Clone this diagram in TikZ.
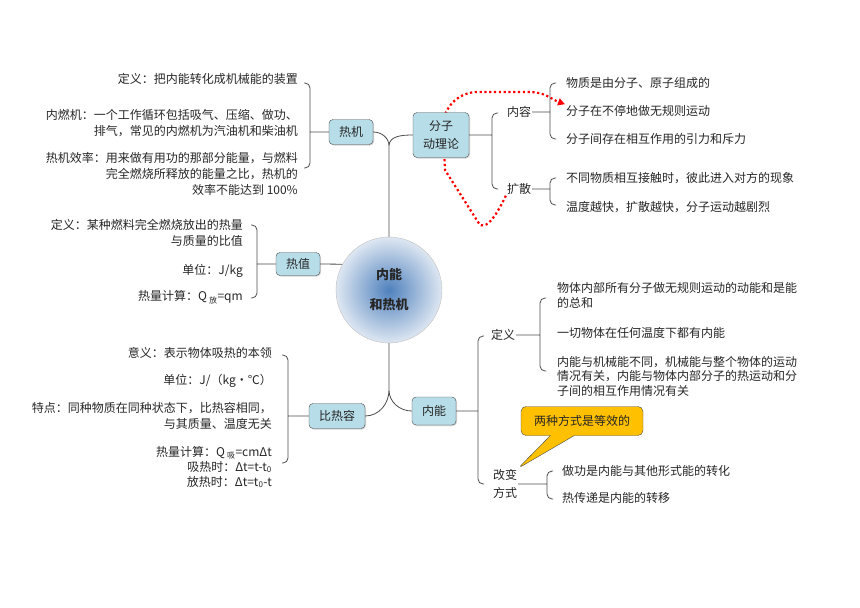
\documentclass[tikz,border=0pt]{standalone}
\usepackage{fontspec}
\setmainfont{Noto Sans CJK SC}
\usetikzlibrary{arrows.meta,shapes.callouts,shadows,backgrounds}
\definecolor{boxblue}{RGB}{183,221,232}
\definecolor{hubblue}{RGB}{79,129,189}
\definecolor{hublight}{RGB}{222,231,242}
\definecolor{noteorange}{RGB}{255,192,0}
\tikzset{
  box/.style={draw=black!70, fill=boxblue, rounded corners=4pt,
    inner xsep=10pt, minimum height=25pt,
    drop shadow={shadow xshift=1pt, shadow yshift=-1pt, fill=black!35}},
  hub/.style={circle, draw=black!25, shading=radial, inner color=hubblue,
    outer color=hublight, minimum size=106pt, align=center,
    font=\bfseries\fontsize{13}{30}\selectfont},
  note/.style={rectangle callout, draw=black!70, fill=noteorange,
    rounded corners=5pt, inner xsep=13pt, minimum height=29pt,
    callout pointer width=24pt},
  rtext/.style={anchor=east, align=right},
  ltext/.style={anchor=west, align=left},
  conn/.style={draw=black!70, line width=0.8pt, rounded corners=5pt},
  lbrace/.style={to path={([xshift=-6pt]\tikztostart) -- (\tikztostart)
    -- (\tikztotarget) -- ([xshift=-6pt]\tikztotarget)}},
  rbrace/.style={to path={([xshift=6pt]\tikztostart) -- (\tikztostart)
    -- (\tikztotarget) -- ([xshift=6pt]\tikztotarget)}},
  reddots/.style={draw=red, line width=2.2pt, dash pattern=on 2.2pt off 2.6pt,
    -{Triangle[length=7pt,width=7pt]}}
}

\begin{document}
\begin{tikzpicture}[
    x=1pt, y=-1pt,
    every node/.style={
        font=\fontsize{12}{16}\selectfont,
        text=black!85,
        inner sep=1pt
      }
    ]
    \useasboundingbox (0,0) rectangle (860,608);

    % ============= CENTRE ==================

    % -------------------------------
    \node[hub] (C) at (389,290) {内能\\和热机};
    \coordinate (JT) at (389,146);
    \coordinate (JB) at (389,390);
    % -------------------------------


    % ============= HEAT ENGINE (TOP LEFT) ==================

    % -------------------------------
    \node[box] (RJ) at (351,132) {热机};

    \node[rtext] (RJ1) at (299,79) {定义：把内能转化成机械能的装置};
    \node[rtext] (RJ2) at (299,123) {内燃机：一个工作循环包括吸气、压缩、做功、\\排气，常见的内燃机为汽油机和柴油机};
    \node[rtext] (RJ3) at (299,174) {热机效率：用来做有用功的那部分能量，与燃料\\完全燃烧所释放的能量之比，热机的\\效率不能达到 100\%};
    \coordinate (RJa) at (310,83);
    \coordinate (RJb) at (310,168);
    % -------------------------------

    % ============= HEAT VALUE (LEFT) ==================

    % -------------------------------
    \node[box, minimum height=23pt] (RZ) at (298,264) {热值};

    \node[rtext] (RZ1) at (244,233) {定义：某种燃料完全燃烧放出的热量\\与质量的比值};
    \node[rtext] (RZ2) at (244,271) {单位：J/kg};
    \node[rtext] (RZ3) at (244,297) {热量计算：Q\,\textsubscript{放}=qm};
    \coordinate (RZa) at (257,225);
    \coordinate (RZb) at (257,298);
    % -------------------------------

    % ============= SPECIFIC HEAT (BOTTOM LEFT) ==================

    % -------------------------------
    \node[box] (BRR) at (337,416) {比热容};

    \node[rtext] (BR1) at (273,353) {意义：表示物体吸热的本领};
    \node[rtext] (BR2) at (273,381) {单位：J/（kg・℃）};
    \node[rtext] (BR3) at (273,416) {特点：同种物质在同种状态下，比热容相同，\\与其质量、温度无关};
    \node[rtext, font=\fontsize{12}{15}\selectfont] (BR4) at (273,467) {热量计算：Q\,\textsubscript{吸}=cmΔt\\吸热时：Δt=t-t\textsubscript{0}\\放热时：Δt=t\textsubscript{0}-t};
    \coordinate (BRa) at (288,355);
    \coordinate (BRb) at (288,463);
    % -------------------------------

    % ============= MOLECULAR THEORY (TOP RIGHT) ==================

    % -------------------------------
    \node[box, align=center, minimum height=45pt,
      font=\fontsize{12}{18}\selectfont] (FZ) at (441,135) {分子\\动理论};
    \coordinate (FZa) at (492,113);
    \coordinate (FZb) at (492,189);

    \node (NR) at (519,112) {内容};
    \node[ltext] (NR1) at (565,83) {物质是由分子、原子组成的};
    \node[ltext] (NR2) at (565,111) {分子在不停地做无规则运动};
    \node[ltext] (NR3) at (565,139) {分子间存在相互作用的引力和斥力};
    \coordinate (NRa) at (550,83);
    \coordinate (NRb) at (550,139);

    \node (KS) at (519,189) {扩散};
    \node[ltext] (KS1) at (565,178) {不同物质相互接触时，彼此进入对方的现象};
    \node[ltext] (KS2) at (565,207) {温度越快，扩散越快，分子运动越剧烈};
    \coordinate (KSa) at (550,178);
    \coordinate (KSb) at (550,205);
    % -------------------------------

    % ============= INTERNAL ENERGY (BOTTOM RIGHT) ==================

    % -------------------------------
    \node[box, minimum height=28pt] (NN) at (434,411) {内能};
    \coordinate (NNa) at (478,336);
    \coordinate (NNb) at (478,484);

    \node (DY) at (503,335) {定义};
    \node[ltext, font=\fontsize{12}{15}\selectfont] (DY1) at (556,295) {物体内部所有分子做无规则运动的动能和是能\\的总和};
    \node[ltext] (DY2) at (556,333) {一切物体在任何温度下都有内能};
    \node[ltext, font=\fontsize{12}{14.5}\selectfont] (DY3) at (556,376) {内能与机械能不同，机械能与整个物体的运动\\情况有关，内能与物体内部分子的热运动和分\\子间的相互作用情况有关};
    \coordinate (DYa) at (540,298);
    \coordinate (DYb) at (540,371);

    \node[align=center, font=\fontsize{12}{18}\selectfont] (GB) at (505,484) {改变\\方式};
    \node[ltext] (GB1) at (561,471) {做功是内能与其他形式能的转化};
    \node[ltext] (GB2) at (561,498) {热传递是内能的转移};
    \coordinate (GBa) at (547,471);
    \coordinate (GBb) at (547,499);

    \node[note, callout absolute pointer={(GB.north east)}] (EQ) at (582,421) {两种方式是等效的};
    % -------------------------------

    % ============= LINES ==================
    \draw[conn] (C.north) -- (JT)
        (JT) to[out=90,in=0] (RJ.east)
        (JT) to[out=90,in=180] (FZ.west)
        (C.south) -- (JB)
        (JB) to[out=-90,in=0] (BRR.east)
        (JB) to[out=-90,in=180] (NN.west)
        (RZ.east) -- (C.151);

    \draw[conn] (RJ.west) -- (RJ.west -| RJa)
        (RJa) to[lbrace] (RJb);
    \draw[conn] (RZ.west) -- (RZ.west -| RZa)
        (RZa) to[lbrace] (RZb);
    \draw[conn] (BRR.west) -- (BRR.west -| BRa)
        (BRa) to[lbrace] (BRb);
    \draw[conn] (FZ.east) -- (FZ.east -| FZa)
        (FZa) to[rbrace] (FZb);
    \draw[conn] (NR.east) -- (NR.east -| NRa)
        (NRa) to[rbrace] (NRb);
    \draw[conn] (KS.east) -- (KS.east -| KSa)
        (KSa) to[rbrace] (KSb);
    \draw[conn] (NN.east) -- (NN.east -| NNa)
        (NNa) to[rbrace] (NNb);
    \draw[conn] (DY.east) -- (DY.east -| DYa)
        (DYa) to[rbrace] (DYb);
    \draw[conn] (GB.east) -- (GB.east -| GBa)
        (GBa) to[rbrace] (GBb);

    \begin{scope}[on background layer]
      \draw[reddots] (KS.south west) to[out=-115,in=-60] (478,222)
          -- (445,170) -- (443,122) to[out=80,in=180] (478,92)
          -- (530,92) to[out=0,in=160] (NR2.north west);
    \end{scope}

  \end{tikzpicture}
\end{document}
